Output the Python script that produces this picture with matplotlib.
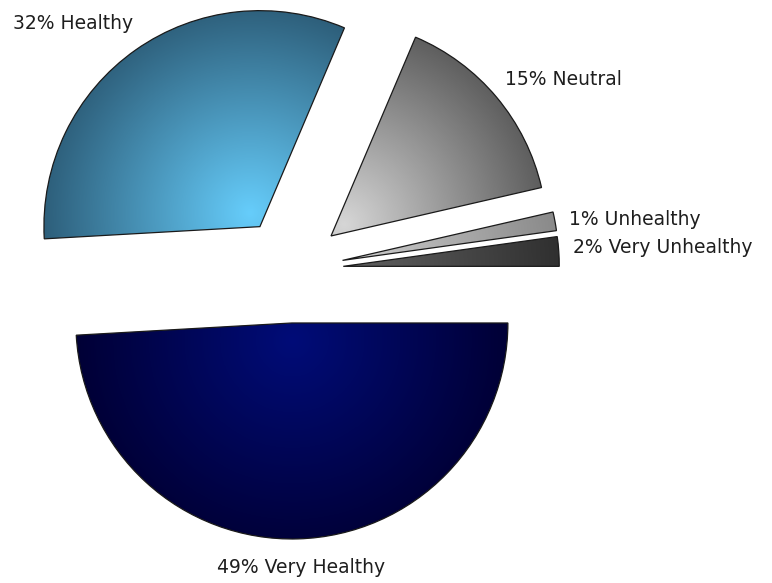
"""
Exploded pie of health ratings with radial-gradient wedges.
"""

import numpy as np
import matplotlib
matplotlib.use("Agg")
import matplotlib.pyplot as plt
from matplotlib.colors import LinearSegmentedColormap

# ── data ─────────────────────────────────────────────────────────────────────
categories = ["Very Unhealthy", "Unhealthy", "Neutral", "Healthy", "Very Healthy"]
shares = [2.2, 1.4, 15.0, 32.3, 49.1]

# ── styles ───────────────────────────────────────────────────────────────────
C_INNER = ["#5e5e5e", "#cbcbcb", "#d6d6d6", "#66cdfb", "#000c78"]
C_OUTER = ["#2c2c2c", "#848484", "#555555", "#2b5a75", "#000036"]
C_EDGE = "#1a1a1a"
C_TEXT = "#1e1e1e"

W, H = 772, 583
PIE_CENTER = (290.4, H - 270)
PIE_RADIUS = 216
EXPLODE = 53

# label anchors in pixel coords (left, baseline from top)
LABEL_POS = {
    "Very Unhealthy": (573, 253),
    "Unhealthy": (569, 225),
    "Neutral": (505, 85),
    "Healthy": (13, 29),
    "Very Healthy": (217, 573),
}


def gradient_fill(ax, wedge, inner, outer):
    cx, cy = wedge.center
    r = wedge.r
    tm = np.deg2rad(0.5 * (wedge.theta1 + wedge.theta2))
    gx = cx + 0.08 * r * np.cos(tm)
    gy = cy + 0.08 * r * np.sin(tm)
    xs = np.linspace(cx - r, cx + r, 400)
    ys = np.linspace(cy - r, cy + r, 400)
    X, Y = np.meshgrid(xs, ys)
    t = np.clip(np.hypot(X - gx, Y - gy) / r, 0, 1)
    cmap = LinearSegmentedColormap.from_list("g", [inner, outer])
    im = ax.imshow(t, cmap=cmap, vmin=0, vmax=1, origin="lower",
                   extent=(cx - r, cx + r, cy - r, cy + r),
                   interpolation="bilinear", zorder=1)
    im.set_clip_path(wedge)


def main():
    fig = plt.figure(figsize=(W / 100, H / 100), dpi=100, facecolor="white")
    ax = fig.add_axes([0, 0, 1, 1])

    wedges, _ = ax.pie(shares, explode=[EXPLODE] * len(shares),
                       radius=PIE_RADIUS, center=PIE_CENTER,
                       startangle=0, counterclock=True,
                       wedgeprops=dict(facecolor="none", edgecolor=C_EDGE,
                                       linewidth=0.9, zorder=2))

    for w, ci, co in zip(wedges, C_INNER, C_OUTER):
        gradient_fill(ax, w, ci, co)

    for name, val in zip(categories, shares):
        x, y = LABEL_POS[name]
        ax.text(x, H - y, f"{round(val)}% {name}", ha="left", va="baseline",
                fontsize=13.5, color=C_TEXT, family="DejaVu Sans", zorder=3)

    ax.set_xlim(0, W)
    ax.set_ylim(0, H)
    ax.set_aspect("equal")
    ax.axis("off")

    fig.savefig("out.png", dpi=100, facecolor="white")


if __name__ == "__main__":
    main()
